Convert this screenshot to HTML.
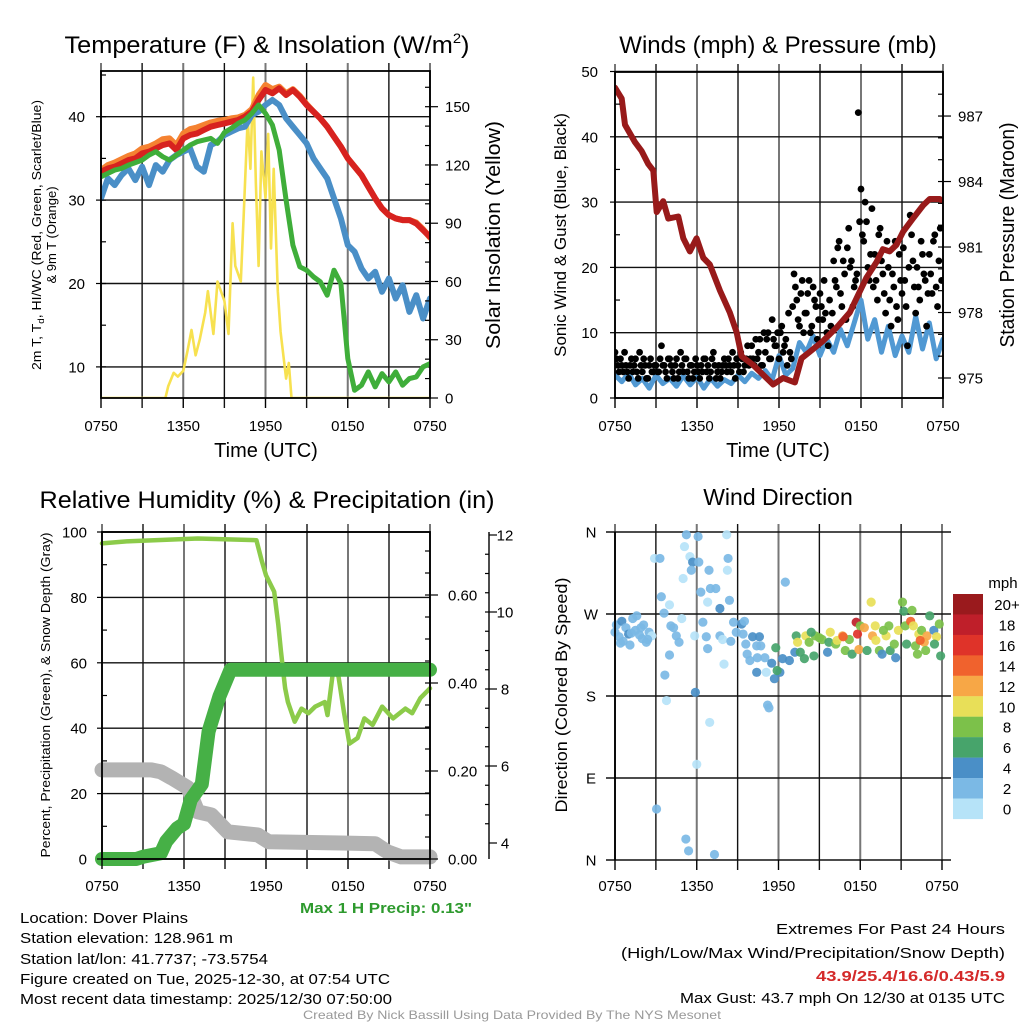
<!DOCTYPE html>
<html><head><meta charset="utf-8"><title>Mesonet Station Charts</title>
<style>
html,body{margin:0;padding:0;background:#fff;}
svg{display:block;font-family:"Liberation Sans",Arial,sans-serif;}
</style></head>
<body>
<svg id="chart" xmlns="http://www.w3.org/2000/svg" width="1024" height="1024" viewBox="0 0 1024 1024">
<rect x="0" y="0" width="1024" height="1024" fill="#fff"/>
<defs>
<clipPath id="c1"><rect x="101" y="71" width="329" height="327"/></clipPath>
<clipPath id="c2"><rect x="615" y="72" width="328" height="326"/></clipPath>
<clipPath id="c3"><rect x="90" y="525" width="350" height="345"/></clipPath>
<clipPath id="c4"><rect x="609" y="526" width="340" height="340"/></clipPath>
</defs>
<g id="grid"></g>
<g id="series"></g>
<g id="axes"></g>

<text x="267" y="53" font-size="24" text-anchor="middle" textLength="405" lengthAdjust="spacingAndGlyphs">Temperature (F) &amp; Insolation (W/m<tspan font-size="14" dy="-10">2</tspan><tspan dy="10">)</tspan></text>
<text x="778" y="53" font-size="24" text-anchor="middle">Winds (mph) &amp; Pressure (mb)</text>
<text x="267" y="508" font-size="24" text-anchor="middle" textLength="455" lengthAdjust="spacingAndGlyphs">Relative Humidity (%) &amp; Precipitation (in)</text>
<text x="778" y="505" font-size="23" text-anchor="middle">Wind Direction</text>

<text x="266" y="457" font-size="20" text-anchor="middle">Time (UTC)</text>
<text x="778" y="457" font-size="20" text-anchor="middle">Time (UTC)</text>
<text transform="translate(41,235) rotate(-90)" font-size="13" text-anchor="middle" textLength="270" lengthAdjust="spacingAndGlyphs">2m T, T<tspan font-size="9" dy="3">d</tspan><tspan dy="-3">, HI/WC (Red, Green, Scarlet/Blue)</tspan></text>
<text transform="translate(56,235) rotate(-90)" font-size="13" text-anchor="middle">&amp; 9m T (Orange)</text>
<text transform="translate(500,235) rotate(-90)" font-size="20" text-anchor="middle" textLength="228" lengthAdjust="spacingAndGlyphs">Solar Insolation (Yellow)</text>
<text transform="translate(566,235) rotate(-90)" font-size="17" text-anchor="middle">Sonic Wind &amp; Gust (Blue, Black)</text>
<text transform="translate(1014,235) rotate(-90)" font-size="20" text-anchor="middle" textLength="225" lengthAdjust="spacingAndGlyphs">Station Pressure (Maroon)</text>
<text transform="translate(50,695) rotate(-90)" font-size="13" text-anchor="middle" textLength="325" lengthAdjust="spacingAndGlyphs">Percent, Precipitation (Green), &amp; Snow Depth (Gray)</text>
<text transform="translate(567,695) rotate(-90)" font-size="17" text-anchor="middle" textLength="235" lengthAdjust="spacingAndGlyphs">Direction (Colored By Speed)</text>

<text x="386" y="913" font-size="15" font-weight="bold" fill="#2e9a2e" text-anchor="middle" textLength="172" lengthAdjust="spacingAndGlyphs">Max 1 H Precip: 0.13"</text>

<g font-size="15">
<text x="20" y="923" textLength="168" lengthAdjust="spacingAndGlyphs">Location: Dover Plains</text>
<text x="20" y="943" textLength="213" lengthAdjust="spacingAndGlyphs">Station elevation: 128.961 m</text>
<text x="20" y="964" textLength="248" lengthAdjust="spacingAndGlyphs">Station lat/lon: 41.7737; -73.5754</text>
<text x="20" y="984" textLength="370" lengthAdjust="spacingAndGlyphs">Figure created on Tue, 2025-12-30, at 07:54 UTC</text>
<text x="20" y="1004" textLength="372" lengthAdjust="spacingAndGlyphs">Most recent data timestamp: 2025/12/30 07:50:00</text>
</g>
<g font-size="15" text-anchor="end">
<text x="1005" y="934" textLength="229" lengthAdjust="spacingAndGlyphs">Extremes For Past 24 Hours</text>
<text x="1005" y="958" textLength="384" lengthAdjust="spacingAndGlyphs">(High/Low/Max Wind/Precipitation/Snow Depth)</text>
<text x="1005" y="981" font-weight="bold" fill="#d42a2a" textLength="189" lengthAdjust="spacingAndGlyphs">43.9/25.4/16.6/0.43/5.9</text>
<text x="1005" y="1003" textLength="325" lengthAdjust="spacingAndGlyphs">Max Gust: 43.7 mph On 12/30 at 0135 UTC</text>
</g>
<text x="512" y="1019" font-size="12" fill="#999" text-anchor="middle" textLength="418" lengthAdjust="spacingAndGlyphs">Created By Nick Bassill Using Data Provided By The NYS Mesonet</text>
<text x="1003" y="588" font-size="15" text-anchor="middle">mph</text>
<g id="cbar"></g>
</svg>
<script>
// ---------- DATA ----------
const timeLabels = ['0750','1350','1950','0150','0750'];
const halfHourStep = 0.5;
// Panel 1 (half-hourly, 49 values)
const temp2m = [33.4,33.8,34.0,34.4,34.8,35.0,35.6,35.8,36.2,36.6,36.8,36.0,37.4,37.8,38.0,38.4,38.8,39.0,39.2,39.4,39.6,40.0,40.6,42.0,43.2,42.8,43.4,42.6,43.2,42.4,41.4,40.6,39.8,38.8,37.6,36.4,35.0,34.0,33.0,31.6,30.2,29.0,28.2,27.8,27.6,27.6,27.2,26.4,25.6];
const temp9m = [33.6,34.2,34.5,34.9,35.3,35.6,36.2,36.4,36.8,37.3,37.4,36.6,38.0,38.5,38.7,39.0,39.3,39.5,39.6,39.8,39.9,40.2,40.9,42.6,43.8,43.3,43.6,42.8,43.3,42.5,41.5,40.6,39.8,38.8,37.6,36.4,35.0,34.0,33.0,31.6,30.2,29.0,28.2,27.8,27.6,27.6,27.3,26.5,25.5];
const dewGreen = [32.8,33.2,33.6,33.8,34.2,34.5,34.8,35.4,35.8,35.2,34.8,35.4,36.0,36.6,37.0,37.2,37.4,36.8,38.1,38.6,39.2,39.6,40.4,41.4,40.4,39.0,36.0,30.0,24.6,22.0,21.6,20.8,20.2,18.6,21.6,20.0,11.0,7.2,7.8,9.4,7.6,9.2,8.2,9.4,7.8,8.6,8.8,10.0,10.4];
const windChill = [30.2,32.6,31.8,33.0,33.8,32.4,34.0,31.8,34.2,33.4,34.8,35.4,35.8,36.2,34.0,33.4,36.6,37.0,37.8,38.2,38.6,38.8,40.2,40.6,41.4,42.0,41.4,39.8,38.8,37.8,36.8,35.0,33.8,32.6,30.2,27.8,24.6,23.8,21.8,20.6,21.4,19.0,20.6,18.2,19.8,16.6,18.6,15.8,18.2];
const solarTimes = [0,4.7,4.9,5.3,5.6,6.0,6.3,6.6,6.9,7.2,7.6,7.8,8.2,8.5,9.0,9.3,9.6,9.8,10.2,10.4,10.7,10.9,11.1,11.3,11.5,11.7,12.0,12.2,12.4,12.6,12.9,13.1,13.5,13.7,13.9,24];
const solarValues = [0,0,6,13,11,14,24,35,22,30,44,55,33,60,50,33,90,68,60,93,144,118,165,110,68,127,103,136,77,118,55,34,10,18,0,0];
// Panel 2
const pressTimes = [0,0.49,0.73,1.46,1.95,2.44,2.8,3.05,3.53,3.9,4.63,5.0,5.48,5.97,6.46,6.94,7.68,8.4,8.9,9.26,10.1,11.57,12.3,13.16,13.65,14.25,15.23,16.2,17.18,17.79,18.4,19.13,19.6,20.1,20.6,21.08,21.8,22.54,23.03,23.76,24];
const pressValues = [988.3,987.8,986.6,985.8,985.4,984.8,984.5,982.6,983.1,982.3,982.4,981.4,980.8,981.4,980.5,980.2,979.0,978.0,977.1,976.0,975.6,974.7,975.0,974.8,975.9,976.2,976.7,977.3,978.0,978.8,979.6,980.3,980.9,980.8,981.1,981.7,982.3,982.9,983.2,983.2,983.1];
const windSpeed = [3.5,2.5,3.8,2.0,3.0,1.5,3.5,2.2,3.0,1.8,3.4,2.0,3.2,1.5,3.0,1.8,2.8,2.2,3.5,2.5,3.8,3.0,4.2,2.8,6.5,3.5,4.5,8.5,7.0,9.5,6.5,9.0,7.0,10.5,8.0,11.5,15.0,9.0,12.0,7.0,11.0,6.5,9.5,7.0,12.5,7.5,11.5,6.0,9.0];
const gustStep = 0.2;
const gustValues = [7,5,6,4,5, 3,6,5,4,7, 4,5,3,6,4, 5,4,8,5,3, 6,4,5,3,7, 4,6,3,5,4, 5,3,4,6,5, 4,7,3,5,4, 6,4,5,7,3, 5,7,4,6,5, 8,5,6,9,5, 7,10,6,9,8, 6,11,8,5,7, 14,17,12,16,10, 13,18,11,15,9, 16,12,13,8,11, 21,17,24,14,19, 23,20,14,18,43.7, 32,24,27,18,29, 22,15,26,19,13, 20,11,17,14,22, 16,18,8,28,21, 13,17,24,19,11, 22,16,25,14,26];
const gustOffset = 0.1;
const gustValues2 = [6,4,5,7,4, 5,4,6,3,5, 6,3,5,4,5, 4,6,5,4,6, 5,3,6,4,5, 6,4,5,3,6, 4,5,6,4,3, 6,5,4,3,5, 5,6,4,5,6, 4,6,5,8,6, 6,9,7,5,10, 9,6,12,8,10, 10,7,9,13,6, 19,15,11,18,13, 16,10,17,14,12, 14,18,10,15,13, 18,23,16,21,12, 26,21,17,19,27, 25,30,20,22,17, 18,25,21,16,24, 15,19,24,12,18, 23,14,20,25,17, 20,15,22,18,16, 19,24,17,21,18];
// Panel 3
const rhTimes = [0,2,7,11.3,11.7,12.0,12.6,12.9,13.1,13.4,13.6,14.1,14.6,15.1,15.6,16.3,16.5,16.9,17.3,17.7,18.1,18.7,19.2,19.8,20.5,21.3,22.2,22.7,23.3,24];
const rhValues = [96.5,97.2,98.0,97.5,91,86.8,81.7,71.6,63.4,52.3,48,42,46,44.6,46.6,48,44,57.3,56,45,35.3,37,43,41,46.6,43,46,44.6,49.2,52.2];
const precipTimes = [0,2.5,3.0,4.3,4.7,5.5,6.0,6.5,7.3,7.8,8.6,9.4,24];
const precipValues = [0,0,0.005,0.013,0.04,0.07,0.08,0.135,0.17,0.29,0.37,0.43,0.43];
const snowTimes = [0,3.6,4.3,5.1,6.3,7.0,8.0,9.2,11.4,12.2,17.5,20.0,20.9,21.9,24];
const snowValues = [5.9,5.9,5.85,5.69,5.43,4.81,4.73,4.29,4.21,4.03,4.0,3.98,3.77,3.64,3.64];
// Panel 4 (time h, direction deg, speed mph)
const dirTimes = [0,0.1,0.3,0.5,0.6,0.8,1.0,1.1,1.3,1.5,1.6,1.8,2.0,2.1,2.3,2.5,2.7,2.9,3.3,3.4,3.66,3.78,3.05,5.24,6.1,5.1,5.5,5.7,6.15,5.6,5.0,6.9,6.3,7.0,7.4,6.8,7.7,8.4,8.2,8.3,8.25,5.9,6.95,6.0,5.2,5.4,7.3,8.0,4.0,3.6,4.9,4.1,4.5,4.3,4.7,4.0,5.85,6.45,6.7,6.8,7.7,7.9,8.5,8.7,9.3,9.5,8.9,9.4,9.6,10.1,10.6,9.7,10.4,10.7,9.9,10.45,11.0,11.5,10.4,11.1,11.7,12.1,11.2,11.3,12.5,11.8,11.9,12.3,12.8,13.2,13.3,13.6,13.9,13.4,14.0,14.25,14.6,14.7,15.2,15.6,15.7,15.8,16.2,16.3,16.7,16.9,17.2,17.4,17.7,17.8,17.9,18.0,18.3,18.5,18.8,18.9,19.1,19.15,19.4,19.6,19.9,20.1,20.2,20.5,20.6,20.8,21.1,21.2,21.3,21.7,21.8,21.9,22.05,22.3,22.5,22.7,22.8,22.9,23.1,23.4,23.6,23.8,23.9,23.45,22.2,21.4,22.4,16.75,15.0,14.4,19.7,1.9,0.4,1.2,2.4];
const dirValues = [250,258,245,262,240,255,248,236,265,252,268,247,243,258,239,250,246,331,331,289,203,175,56,357,355,344,333,327,327,318,309,318,294,298,298,283,276,285,357,331,318,184,151,105,23,10,6,215,280,271,265,257,246,255,239,225,246,261,245,232,246,242,240,261,259,262,250,248,237,245,245,226,235,235,219,222,222,216,206,206,199,206,170,167,305,233,208,221,219,228,246,228,221,239,246,239,224,246,242,228,239,250,237,241,246,230,242,226,261,248,231,257,255,230,283,246,257,241,230,226,246,257,230,237,222,252,283,273,257,262,274,257,235,248,252,239,230,246,268,252,245,259,224,237,226,237,241,245,244,250,252,255,238,249,242];
const dirSpeeds = [3,2,2,4,2,3,4,2,2,2,3,2,2,2,2,2,1,1,2,2,2,0,3,2,3,1,1,4,3,2,1,2,2,2,2,1,4,2,0,2,1,4,1,1,2,2,2,0,1,2,0,2,3,2,2,2,0,2,2,2,2,1,2,2,4,2,2,2,2,4,4,2,2,2,2,2,2,4,4,1,4,4,2,2,2,6,6,4,4,4,6,6,6,10,10,8,6,8,8,4,6,10,8,10,12,8,8,6,18,16,12,8,12,6,10,12,10,10,8,4,10,8,6,8,4,10,8,6,8,14,8,10,8,10,8,12,8,12,6,4,10,8,6,6,8,6,14,14,9,7,9,2,3,2,2];
const cbarLabels = ['20+','18','16','14','12','10','8','6','4','2','0'];
const cbarColors = ['#9a1a1d','#bf1f2a','#df3329','#f0622d','#f7a746','#e8df58','#7cc14a','#47a46b','#4a8fc7','#7bb9e5','#b6e3f8'];

// ---------- HELPERS ----------
const NS='http://www.w3.org/2000/svg';
const gridG=document.getElementById('grid'), serG=document.getElementById('series'), axG=document.getElementById('axes'), cbG=document.getElementById('cbar');
function mk(tag,attrs,parent){const e=document.createElementNS(NS,tag);for(const k in attrs)e.setAttribute(k,attrs[k]);parent.appendChild(e);return e;}
const P1={L:101,R:430,T:71,B:398}, P2={L:615,R:943,T:72,B:398}, P3={L:102,R:430,T:532,B:859}, P4={L:615,R:942,T:532,B:860};
function xT(P,t){return P.L+t/24*(P.R-P.L);}
const y1=v=>116.7+(40-v)*8.34, y1r=v=>398-v*1.942;
const y2=v=>398-v*6.53, y2p=p=>378-(p-975)*21.83;
const y3=v=>859-v*3.27, y3p=v=>859-v*440, y3s=v=>843-(v-4)*38.5;
const y4=d=>860-d*0.9111;
function pathFrom(P,times,vals,yf){let d='';for(let i=0;i<vals.length;i++){d+=(i?'L':'M')+xT(P,times[i]).toFixed(1)+','+yf(vals[i]).toFixed(1);}return d;}
function halfTimes(n){const a=[];for(let i=0;i<n;i++)a.push(i*halfHourStep);return a;}
function drawLine(P,times,vals,yf,color,w,clip,name){
  const p=mk('path',{d:pathFrom(P,times,vals,yf),fill:'none',stroke:color,'stroke-width':w,'stroke-linejoin':'round','stroke-linecap':'round','clip-path':'url(#'+clip+')'},serG);
  
  
  return p;
}

// ---------- GRID & AXES ----------
function panelGrid(P,hLines,yf,id){
  for(let h=0;h<=24;h+=3){
    const x=xT(P,h);
    const g=mk('line',{x1:x,x2:x,y1:P.T-8,y2:P.B+(h%6===0?0:10),stroke:(h%6===0?'#777':'#111'),'stroke-width':(h%6===0?2:1.4)},gridG);
    
    
  }
  hLines.forEach(v=>{
    const y=yf(v);
    const g=mk('line',{x1:P.L-(id==='p4'?9:0),x2:P.R+(id==='p4'?9:0),y1:y,y2:y,stroke:'#111','stroke-width':1.4},gridG);
    
    
  });
}
function xAxis(P,yLab,id){
  for(let i=0;i<timeLabels.length;i++){
    const x=xT(P,i*6);
    const t=mk('line',{x1:x,x2:x,y1:P.B,y2:P.B+10,stroke:'#000','stroke-width':1.4},axG);
    
    
    const l=mk('text',{x:x,y:yLab,'font-size':15,'text-anchor':'middle'},axG);
    l.textContent=timeLabels[i];
    
    
  }
}
function yTicks(x,vals,yf,side,labels,lx,anchor,id,len){
  vals.forEach((v,i)=>{
    const y=yf(v);
    const t=mk('line',{x1:x,x2:x+(side*len),y1:y,y2:y,stroke:'#000','stroke-width':1.2},axG);
    
    
    if(labels){
      const l=mk('text',{x:lx,y:y+5.5,'font-size':15,'text-anchor':anchor},axG);
      l.textContent=labels[i];
      
      
    }
  });
}
function frame(P,id){
  const r=mk('rect',{x:P.L,y:P.T,width:P.R-P.L,height:P.B-P.T,fill:'none',stroke:'#000','stroke-width':1.8},axG);
  
  
}
function range(a,b,s){const r=[];for(let v=a;v<=b+1e-9;v+=s)r.push(+v.toFixed(4));return r;}

// Panel 1
const p1Left=[10,20,30,40], p1Right=[0,30,60,90,120,150];
panelGrid(P1,p1Left,y1,'p1');
xAxis(P1,431,'p1');
yTicks(P1.L,p1Left,y1,-1,p1Left.map(String),85,'end','p1-left',5);
yTicks(P1.L,[10,15,20,25,30,35,40,45],y1,1,null,0,'','p1-left-minor',5);
yTicks(P1.R,p1Right,y1r,1,p1Right.map(String),445,'start','p1-right',8);
yTicks(P1.R,range(10,160,10),y1r,-1,null,0,'','p1-right-minor',5);
// Panel 2
const p2Left=[0,10,20,30,40,50], p2Right=[975,978,981,984,987];
panelGrid(P2,p2Left,y2,'p2');
xAxis(P2,431,'p2');
yTicks(P2.L,p2Left,y2,-1,p2Left.map(String),598,'end','p2-left',5);
yTicks(P2.L,[5,15,25,35,45],y2,1,null,0,'','p2-left-minor',5);
yTicks(P2.R,p2Right,y2p,1,p2Right.map(String),958,'start','p2-right',8);
yTicks(P2.R,range(975,988,1),y2p,-1,null,0,'','p2-right-minor',5);
// Panel 3
const p3Left=[0,20,40,60,80,100], p3Inner=[0,0.2,0.4,0.6], p3Outer=[4,6,8,10,12];
panelGrid(P3,p3Left,y3,'p3');
xAxis(P3,891,'p3');
yTicks(P3.L,p3Left,y3,-1,p3Left.map(String),87,'end','p3-left',5);
yTicks(P3.L,[10,30,50,70,90],y3,1,null,0,'','p3-left-minor',5);
yTicks(P3.R,p3Inner,y3p,1,['0.00','0.20','0.40','0.60'],448,'start','p3-inner-right',8);
yTicks(P3.R,range(0.05,0.7,0.05),y3p,-1,null,0,'','p3-inner-minor',5);
const ax3=mk('line',{x1:489,x2:489,y1:532,y2:859,stroke:'#000','stroke-width':1.4},axG);


yTicks(489,p3Outer,y3s,1,p3Outer.map(String),505,'middle','p3-outer-right',8);
yTicks(489,range(4.5,11.5,0.5),y3s,-1,null,0,'','p3-outer-minor',4);
// Panel 4
const p4Dirs=[0,90,180,270,360], p4Labels=['N','E','S','W','N'];
panelGrid(P4,p4Dirs,y4,'p4');
xAxis(P4,891,'p4');
p4Dirs.forEach((d,i)=>{
  const l=mk('text',{x:591,y:y4(d)+5.5,'font-size':15,'text-anchor':'middle'},axG);
  l.textContent=p4Labels[i];
  
  
});

// ---------- SERIES ----------
const ht=halfTimes(49);
drawLine(P1,solarTimes,solarValues,y1r,'#f7e150',2.6,'c1','solar-insolation-line');
drawLine(P1,ht,temp9m,y1,'#f58231',6,'c1','temp-9m-line');
drawLine(P1,ht,temp2m,y1,'#d7221f',6,'c1','temp-2m-line');
drawLine(P1,ht,windChill,y1,'#4a8fc7',6,'c1','wind-chill-line');
drawLine(P1,ht,dewGreen,y1,'#3fae3a',5,'c1','dewpoint-line');

drawLine(P2,ht,windSpeed,y2,'#5199d3',5,'c2','wind-speed-line');
gustValues.forEach((v,i)=>{
  const c=mk('circle',{cx:xT(P2,i*gustStep),cy:y2(v),r:3.4,fill:'#000','clip-path':'url(#c2)'},serG);
  
  
});
gustValues2.forEach((v,i)=>{
  const c=mk('circle',{cx:xT(P2,gustOffset+i*gustStep),cy:y2(v),r:3.4,fill:'#000','clip-path':'url(#c2)'},serG);
  
  
});
drawLine(P2,pressTimes,pressValues,y2p,'#981a1a',6,'c2','pressure-line');

drawLine(P3,snowTimes,snowValues,y3s,'#b3b3b3',15,'c3','snow-depth-line');
drawLine(P3,rhTimes,rhValues,y3,'#8ccb4a',4.5,'c3','relative-humidity-line');
drawLine(P3,precipTimes,precipValues,y3p,'#46b046',14,'c3','precipitation-line');

dirValues.forEach((d,i)=>{
  const idx=Math.min(10,Math.floor(dirSpeeds[i]/2));
  const c=mk('circle',{cx:xT(P4,dirTimes[i]),cy:y4(d),r:4.6,fill:cbarColors[10-idx],'fill-opacity':0.92,'clip-path':'url(#c4)'},serG);
  
  
});

// frames
frame(P1,'p1'); frame(P2,'p2'); frame(P3,'p3');
const f4=mk('line',{x1:P4.L,x2:P4.L,y1:P4.T,y2:P4.B,stroke:'#000','stroke-width':1.8},axG);



// colorbar
cbarLabels.forEach((lab,i)=>{
  const y=594+i*20.45;
  const r=mk('rect',{x:953,y:y,width:30,height:20.6,fill:cbarColors[i]},cbG);
  
  
  const t=mk('text',{x:1007,y:y+16,'font-size':15,'text-anchor':'middle'},cbG);
  t.textContent=lab;
  
  
});
</script>
</body></html>
